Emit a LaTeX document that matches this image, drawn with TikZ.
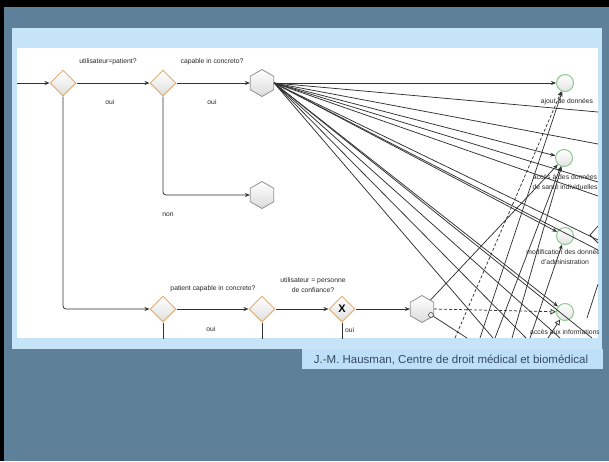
\documentclass[tikz,border=0pt]{standalone}
\usepackage{fontspec}
\setmainfont{Liberation Sans}
\usetikzlibrary{arrows.meta, shapes.geometric}
\definecolor{slidebg}{RGB}{94,128,153}
\definecolor{panelblue}{RGB}{197,228,247}
\definecolor{capblue}{RGB}{189,224,248}
\definecolor{captext}{RGB}{55,72,96}
\definecolor{gwline}{RGB}{224,176,116}
\definecolor{hexline}{RGB}{145,145,145}
\definecolor{evline}{RGB}{140,200,140}
\definecolor{flowline}{RGB}{50,50,50}
\definecolor{lbltext}{RGB}{40,40,40}
\tikzset{
    gate/.style={diamond, aspect=1, draw=gwline, top color=white, bottom color=gray!25, line width=1pt, inner sep=0pt, minimum size=26pt},
    task/.style={regular polygon, regular polygon sides=6, shape border rotate=30, draw=hexline, top color=white, bottom color=gray!28, line width=0.8pt, inner sep=0pt, minimum size=27pt},
    endev/.style={circle, draw=evline, top color=white, bottom color=gray!22, line width=1pt, inner sep=0pt, minimum size=17pt},
    lbl/.style={font=\fontsize{6.8}{9.5}\selectfont, text=lbltext, align=center, inner sep=0pt},
    wire/.style={draw=flowline, line width=0.75pt},
    flow/.style={wire, -{Stealth[length=5pt, width=4pt]}},
    assoc/.style={wire, densely dashed, -{Triangle[open, length=5.5pt, width=5.5pt, fill=white]}}
}
\begin{document}
\begin{tikzpicture}[x=1pt, y=-1pt]
    \useasboundingbox (0,0) rectangle (609,461);
    % slide
    \fill[slidebg] (0,0) rectangle (609,461);
    \fill[black] (0,0) rectangle (609,7);
    \fill[black] (0,0) rectangle (4,461);
    \fill[panelblue] (12,28) rectangle (602,349);
    \fill[capblue] (302,349) rectangle (603,369);
    \fill[white] (17,48) rectangle (598,338);
    \node[font=\fontsize{11.5}{13}\selectfont, text=captext, inner sep=0pt] (credit) at (451,359.5)
        {J.-M. Hausman, Centre de droit médical et biomédical};

    \begin{scope}
        \clip (17,48) rectangle (598,338);
        % gateways and tasks
        \coordinate (in) at (10,83);
        \node[gate] (d1) at (63,83) {};
        \node[gate] (d2) at (163,83) {};
        \node[task] (h1) at (262,83) {};
        \node[task] (h2) at (262,195) {};
        \node[gate] (d3) at (163,309) {};
        \node[gate] (d4) at (262,309) {};
        \node[gate, font=\bfseries\fontsize{11}{11}\selectfont] (d5) at (342,309) {X};
        \node[task] (h3) at (422,309) {};
        \node[circle, draw=flowline, fill=gray!15, line width=0.5pt, inner sep=0pt, minimum size=5pt] (h3mark) at (431,315) {};
        \node[endev] (c1) at (565,83) {};
        \node[endev] (c2) at (564,158) {};
        \node[endev] (c3) at (565,236) {};
        \node[endev] (c4) at (565,312) {};

        % labels
        \node[lbl] (q1) at (108,62) {utilisateur=patient?};
        \node[lbl] (y1) at (110,102) {oui};
        \node[lbl] (q2) at (212,62) {capable in concreto?};
        \node[lbl] (y2) at (212,102) {oui};
        \node[lbl] (n2) at (168,215) {non};
        \node[lbl] (q3) at (213,289) {patient capable in concreto?};
        \node[lbl] (y3) at (211,329) {oui};
        \node[lbl] (q4) at (313,285) {utilisateur = personne\\de confiance?};
        \node[lbl, anchor=west] (y5) at (345,330) {oui};
        \node[lbl] (t1) at (567,102) {ajout de données};
        \node[lbl] (t2) at (565,182) {accès à des données\\de santé individuelles};
        \node[lbl] (t3) at (565,257) {modification des données\\d'administration};
        \node[lbl] (t4) at (565,332) {accès aux informations};

        % main flow
        \draw[flow] (in) -- (d1);
        \draw[flow] (d1) -- (d2);
        \draw[flow] (d2) -- (h1);
        \draw[flow, rounded corners=3pt] (d2) |- (h2);
        \draw[flow, rounded corners=3pt] (d1) |- (d3);
        \draw[flow] (d3) -- (d4);
        \draw[flow] (d4) -- (d5);
        \draw[flow] (d5) -- (h3);
        \foreach \g in {d3, d4, d5} {
            \coordinate (\g out) at (\g |- 0,345);
            \draw[wire] (\g) -- (\g out);
        }

        % fan from the first task
        \draw[flow] (h1.east) -- (c1);
        \draw[flow] (h1.east) -- (c2);
        \draw[flow] (h1.east) -- (c3);
        \draw[flow] (h1.east) -- (c4);
        \foreach \i/\y in {1/112, 2/144, 3/182, 4/196, 5/240, 6/250} {
            \coordinate (r\i) at (598,\y);
            \draw[wire] (h1.east) -- (r\i);
        }
        \foreach \i/\x in {1/493, 2/526, 3/560, 4/592} {
            \coordinate (b\i) at (\x,338);
            \draw[wire] (h1.east) -- (b\i);
        }

        % flows coming up from below
        \coordinate (u0) at (455,338);
        \draw[flow, densely dashed] (u0) -- (c1);
        \foreach \i/\x/\t in {1/480/c1, 2/495/c2, 3/512/c2, 4/530/c3} {
            \coordinate (u\i) at (\x,338);
            \draw[flow] (u\i) -- (\t);
        }
        \coordinate (u5) at (548,338);
        \draw[wire, -{Triangle[open, length=5.5pt, width=5.5pt, fill=white]}] (u5) -- (c4);

        % third task
        \draw[flow] (h3) -- (c2);
        \coordinate (h3out) at (467,338);
        \draw[wire] (h3) -- (h3out);
        \draw[assoc] (h3.east) -- (c4);

        % bits at the right edge
        \coordinate (k1) at (598,284);
        \coordinate (k2) at (587,318);
        \draw[wire] (k1) -- (k2);
        \coordinate (k3) at (598,226);
        \coordinate (k4) at (590,235);
        \coordinate (k5) at (598,243);
        \draw[wire] (k3) -- (k4) -- (k5);
    \end{scope}
\end{tikzpicture}
\end{document}
